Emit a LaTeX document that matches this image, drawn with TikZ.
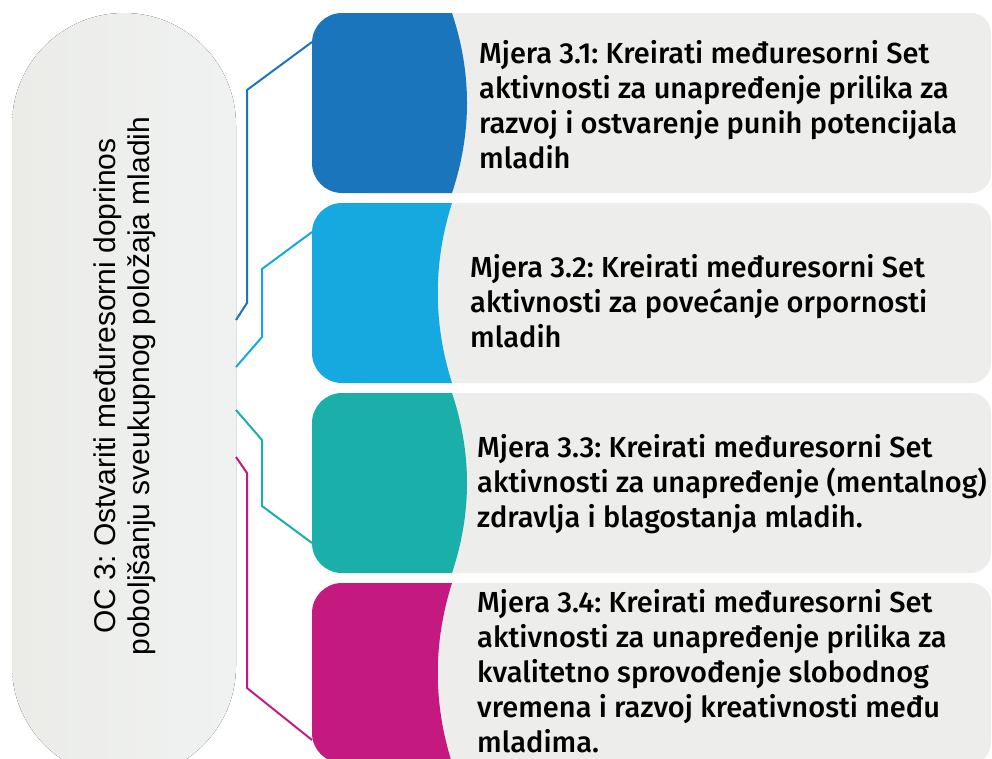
\documentclass[tikz,border=0pt]{standalone}
\usepackage{fontspec}
\setmainfont{Liberation Sans}
\newfontfamily\tabfont{Fira Sans Medium}
\frenchspacing
\definecolor{tabA}{HTML}{1A75BC}
\definecolor{tabB}{HTML}{15A9DF}
\definecolor{tabC}{HTML}{1AB0A9}
\definecolor{tabD}{HTML}{C41A80}
\definecolor{cardgray}{HTML}{EDEEEB}
\definecolor{pillL}{HTML}{EBECE8}
\definecolor{pillR}{HTML}{F0F2F2}
\tikzset{card/.style={fill=cardgray, rounded corners=20pt},
	tabtext/.style={anchor=base west, align=left, inner sep=0pt,
		font=\tabfont\fontsize{29}{35}\selectfont},
	link/.style={line width=2pt, line join=miter}}
% colour, top, x of the bulge controls
\newcommand\drawtab[3]{\fill [#1] (452,#2) -- (342,#2)
	.. controls (325.4,#2) and (312,#2+13.4) .. (312,#2+30) -- (312,#2+150)
	.. controls (312,#2+166.6) and (325.4,#2+180) .. (342,#2+180) -- (452,#2+180)
	.. controls (#3,#2+120) and (#3,#2+60) .. (452,#2) -- cycle;}

\begin{document}
\begin{tikzpicture}
	[x=1pt,y=-1pt]
	\useasboundingbox (0,0) rectangle (992,758);
	\clip (0,0) rectangle (992,758);
	% left pill
	\fill [left color=pillL, right color=pillR, rounded corners=112pt] (12,13) rectangle (236,778);
	\node [rotate=90, align=center, font=\fontsize{30}{34}\selectfont] (oc) at (125,386)
	{OC 3: Ostvariti međuresorni doprinos\\poboljšanju sveukupnog položaja mladih};
	% cards
	\fill [card] (345,13) rectangle (991,193);
	\fill [card] (345,203) rectangle (991,383);
	\fill [card] (345,393) rectangle (991,573);
	\fill [card] (345,583) rectangle (991,763);
	% tabs
	\drawtab{tabA}{13}{472}
	\drawtab{tabB}{203}{433}
	\drawtab{tabC}{393}{472}
	\drawtab{tabD}{583}{433}
	% texts (base = last line)
	\node [tabtext] (m1) at (479,168) {Mjera 3.1: Kreirati međuresorni Set\\aktivnosti za unapređenje prilika za\\razvoj i ostvarenje punih potencijala\\mladih};
	\node [tabtext] (m2) at (470,347) {Mjera 3.2: Kreirati međuresorni Set\\aktivnosti za povećanje orpornosti\\mladih};
	\node [tabtext] (m3) at (477,527) {Mjera 3.3: Kreirati međuresorni Set\\aktivnosti za unapređenje (mentalnog)\\zdravlja i blagostanja mladih.};
	\node [tabtext] (m4) at (477,752) {Mjera 3.4: Kreirati međuresorni Set\\aktivnosti za unapređenje prilika za\\kvalitetno sprovođenje slobodnog\\vremena i razvoj kreativnosti među\\mladima.};
	% links
	\coordinate (t1) at (312,42);
	\coordinate (t2) at (312,232);
	\coordinate (t3) at (312,543);
	\coordinate (t4) at (312,740);
	\coordinate (p1) at (236,320);
	\coordinate (p2) at (236,367);
	\coordinate (p3) at (236,410);
	\coordinate (p4) at (236,457);
	\draw [link, tabA] (t1) -- (247,90) -- (247,303) -- (p1);
	\draw [link, tabB] (t2) -- (262,269) -- (262,337) -- (p2);
	\draw [link, tabC] (p3) -- (262,440) -- (262,506) -- (t3);
	\draw [link, tabD] (p4) -- (247,473) -- (247,688) -- (t4);
\end{tikzpicture}
\end{document}
